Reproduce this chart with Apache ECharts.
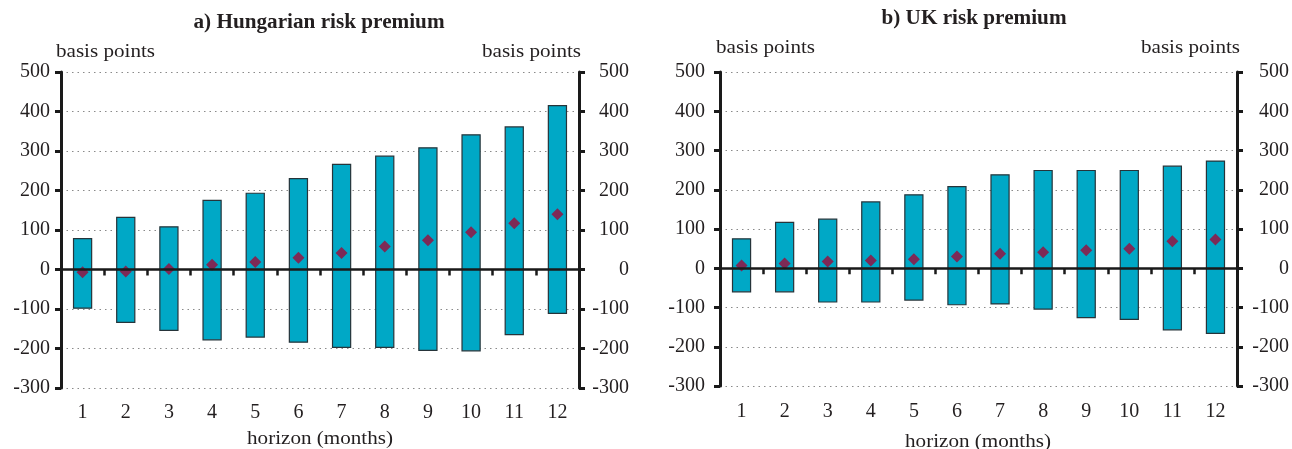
<!DOCTYPE html>
<html>
<head>
<meta charset="utf-8">
<script src="https://cdn.jsdelivr.net/npm/echarts@6/dist/echarts.min.js"></script>
<style>html,body{margin:0;padding:0;background:#fff}#c{width:1292px;height:449px}</style>
</head>
<body>
<div id="c"></div>
<script>
const categories = ['1','2','3','4','5','6','7','8','9','10','11','12'];
// Hungarian risk premium: band low/high and point estimate (basis points)
const huLow  = [-98, -134, -154, -178, -171, -184, -197, -197, -205, -206, -165, -111];
const huHigh = [78, 132, 108, 175, 193, 230, 266, 287, 308, 341, 361, 415];
const huMid  = [-7, -5, 1, 12, 19, 30, 42, 58, 74, 94, 117, 140];
// UK risk premium
const ukLow  = [-60, -60, -86, -86, -81, -93, -91, -104, -126, -130, -157, -166];
const ukHigh = [75, 117, 125, 169, 187, 208, 238, 249, 249, 249, 260, 273];
const ukMid  = [7, 12, 17, 20, 23, 30, 37, 41, 46, 50, 69, 73];
const yMin = -300, yMax = 500, yStep = 100;
const titles = ['a) Hungarian risk premium', 'b) UK risk premium'];
const unitLabel = 'basis points';
const xTitle = 'horizon (months)';

const FONT = 'Liberation Serif';
const TXT = '#231f20';
const BAR = '#00a8c6';
const DOT = '#9c0a3a';

const chart = echarts.init(document.getElementById('c'), null, {renderer: 'canvas'});

function rangeData(lo, hi) { return categories.map((c, i) => [i, lo[i], hi[i]]); }
function midData(m) { return categories.map((c, i) => [i, m[i]]); }

function renderRange(params, api) {
  const x = api.value(0), lo = api.value(1), hi = api.value(2);
  const p1 = api.coord([x, hi]);
  const p2 = api.coord([x, lo]);
  const w = api.size([1, 0])[0] * 0.42;
  return {
    type: 'rect',
    shape: {x: p1[0] - w / 2, y: p1[1], width: w, height: p2[1] - p1[1]},
    style: {fill: BAR, stroke: '#26343a', lineWidth: 1.2}
  };
}

function labelAxis(grid, margin) {
  return {
    type: 'category', gridIndex: grid, data: categories, position: 'bottom',
    axisLine: {show: false, onZero: false}, axisTick: {show: false},
    axisLabel: {fontFamily: FONT, fontSize: 20, color: TXT, margin: margin}
  };
}
function zeroAxis(grid) {
  return {
    type: 'category', gridIndex: grid, data: categories, position: 'bottom', z: 6,
    axisLine: {show: true, onZero: true, lineStyle: {color: '#1a1a1a', width: 2.5}},
    axisTick: {show: true, length: 6, lineStyle: {color: '#1a1a1a', width: 2.5}},
    axisLabel: {show: false}
  };
}
function yAx(grid, pos, margin, split) {
  return {
    type: 'value', gridIndex: grid, position: pos, min: yMin, max: yMax, interval: yStep, z: 1,
    axisLine: {show: true, lineStyle: {color: '#1a1a1a', width: 3}},
    axisTick: {show: true, length: 6, lineStyle: {color: '#1a1a1a', width: 3}},
    axisLabel: {fontFamily: FONT, fontSize: 20, color: TXT, margin: margin, align: 'right'},
    splitLine: {show: split, lineStyle: {color: '#8a8a8a', type: [1.5, 4], width: 1}}
  };
}

function txt(x, y, s, sx, opts) {
  return {
    type: 'text', x: x, y: y, scaleX: sx,
    style: Object.assign({text: s, fontFamily: FONT, fontSize: 19, fill: TXT, textVerticalAlign: 'middle'}, opts || {})
  };
}

chart.setOption({
  animation: false,
  grid: [
    {left: 61, right: 713, top: 72, bottom: 61},
    {left: 720, right: 55, top: 72, bottom: 63}
  ],
  xAxis: [labelAxis(0, 15), zeroAxis(0), labelAxis(1, 16), zeroAxis(1)],
  yAxis: [
    yAx(0, 'left', 11, true), yAx(0, 'right', 50, false),
    yAx(1, 'left', 15, true), yAx(1, 'right', 52, false)
  ],
  series: [
    {type: 'custom', xAxisIndex: 0, yAxisIndex: 0, renderItem: renderRange, data: rangeData(huLow, huHigh), encode: {x: 0, y: [1, 2]}, z: 2},
    {type: 'scatter', xAxisIndex: 0, yAxisIndex: 0, symbol: 'diamond', symbolSize: [12, 12], itemStyle: {color: DOT}, data: midData(huMid), z: 4},
    {type: 'custom', xAxisIndex: 2, yAxisIndex: 2, renderItem: renderRange, data: rangeData(ukLow, ukHigh), encode: {x: 0, y: [1, 2]}, z: 2},
    {type: 'scatter', xAxisIndex: 2, yAxisIndex: 2, symbol: 'diamond', symbolSize: [12, 12], itemStyle: {color: DOT}, data: midData(ukMid), z: 4}
  ],
  graphic: [
    txt(319, 23, titles[0], 1.06, {fontWeight: 'bold', fontSize: 20, textAlign: 'center'}),
    txt(974, 19, titles[1], 1.06, {fontWeight: 'bold', fontSize: 20, textAlign: 'center'}),
    txt(56, 52, unitLabel, 1.11, {textAlign: 'left'}),
    txt(581, 52, unitLabel, 1.11, {textAlign: 'right'}),
    txt(716, 48, unitLabel, 1.11, {textAlign: 'left'}),
    txt(1240, 48, unitLabel, 1.11, {textAlign: 'right'}),
    txt(320, 439, xTitle, 1.11, {textAlign: 'center'}),
    txt(978, 442, xTitle, 1.11, {textAlign: 'center'})
  ]
});
</script>
</body>
</html>
